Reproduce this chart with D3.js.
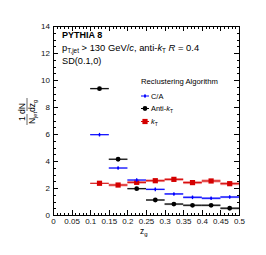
<!DOCTYPE html>
<html>
<head>
<meta charset="utf-8">
<script src="https://cdn.jsdelivr.net/npm/d3@7"></script>
<style>
  body { margin: 0; background: #fff; }
  svg text { font-family: "Liberation Sans", Arial, sans-serif; }
  .axis path, .axis line { stroke: #000; shape-rendering: crispEdges; }
  .axis text { font-size: 8px; fill: #111; }
</style>
</head>
<body>
<div id="chart"></div>
<script>
//-- Data --//
var binLo = [0.10, 0.15, 0.20, 0.25, 0.30, 0.35, 0.40, 0.45],
    binHi = [0.15, 0.20, 0.25, 0.30, 0.35, 0.40, 0.45, 0.50];
var caVals     = [5.95, 3.48, 2.59, 1.90, 1.56, 1.31, 1.24, 1.33],
    antiktVals = [9.36, 4.13, 1.95, 1.11, 0.81, 0.72, 0.72, 0.50],
    ktVals     = [2.35, 2.22, 2.42, 2.54, 2.64, 2.40, 2.52, 2.32];
var caErr     = [0.05, 0.05, 0.05, 0.06, 0.07, 0.08, 0.08, 0.08],
    antiktErr = [0.06, 0.06, 0.06, 0.07, 0.08, 0.08, 0.08, 0.09],
    ktErr     = [0.03, 0.10, 0.10, 0.10, 0.10, 0.11, 0.11, 0.11];
var xTicks = [0, 0.05, 0.1, 0.15, 0.2, 0.25, 0.3, 0.35, 0.4, 0.45, 0.5],
    yTicks = [0, 2, 4, 6, 8, 10, 12, 14];

//-- Sizes --//
var W = 266, H = 255;
var frame = {left: 53, right: 239, top: 26, bottom: 215};

var svg = d3.select("#chart").append("svg")
  .attr("width", W)
  .attr("height", H);

//-- Scales --//
var xScale = d3.scaleLinear().domain([0, 0.5]).range([frame.left, frame.right]),
    yScale = d3.scaleLinear().domain([0, 14]).range([frame.bottom, frame.top]);

var minorX = d3.range(0, 0.5001, 0.01),
    minorY = d3.range(0, 14.001, 0.5);

function fmtX(d) { return String(+d.toFixed(2)); }

// major + minor ticks on all four sides, pointing inside (ROOT style)
function drawAxis(gen, tr, ticks, minor, fmt) {
  var g = svg.append("g").attr("class", "axis").attr("transform", tr);
  g.call(gen.tickValues(minor).tickSize(-2.5).tickFormat(""));
  var g2 = svg.append("g").attr("class", "axis").attr("transform", tr);
  g2.call(gen.tickValues(ticks).tickSize(-5).tickPadding(3).tickFormat(fmt));
  g2.select(".domain").remove();
  g.selectAll("text").remove();
  return g2;
}
drawAxis(d3.axisBottom(xScale), "translate(0," + frame.bottom + ")", xTicks, minorX, fmtX);
drawAxis(d3.axisTop(xScale), "translate(0," + frame.top + ")", xTicks, minorX, function() { return ""; });
drawAxis(d3.axisLeft(yScale), "translate(" + frame.left + ",0)", yTicks, minorY, d3.format("d"));
drawAxis(d3.axisRight(yScale), "translate(" + frame.right + ",0)", yTicks, minorY, function() { return ""; });

//-- Series --//
var series = [
  {name: "kT",     vals: ktVals,     err: ktErr,     color: "#d40000", box: "#f08080", marker: "square"},
  {name: "CA",     vals: caVals,     err: caErr,     color: "#0000ff", box: "#8080ff", marker: "plus"},
  {name: "antikT", vals: antiktVals, err: antiktErr, color: "#000000", box: "#909090", marker: "circle"}
];

function drawMarkers(g, pts, s) {
  if (s.marker === "square") {
    g.selectAll(".m").data(pts).enter().append("rect")
      .attr("x", function(d) { return d.x - 2.6; })
      .attr("y", function(d) { return d.y - 2.6; })
      .attr("width", 5.2).attr("height", 5.2)
      .style("fill", s.color);
  } else if (s.marker === "circle") {
    g.selectAll(".m").data(pts).enter().append("circle")
      .attr("cx", function(d) { return d.x; })
      .attr("cy", function(d) { return d.y; })
      .attr("r", 2.4)
      .style("fill", s.color);
  } else {
    g.selectAll(".m").data(pts).enter().append("line")
      .attr("x1", function(d) { return d.x; })
      .attr("x2", function(d) { return d.x; })
      .attr("y1", function(d) { return d.y - 1.8; })
      .attr("y2", function(d) { return d.y + 1.8; })
      .style("stroke", s.color)
      .style("stroke-width", 1.3);
    g.selectAll(".m2").data(pts).enter().append("circle")
      .attr("cx", function(d) { return d.x; })
      .attr("cy", function(d) { return d.y; })
      .attr("r", 1)
      .style("fill", s.color);
  }
}

series.forEach(function(s) {
  var pts = binLo.map(function(lo, i) {
    return {lo: lo, hi: binHi[i], v: s.vals[i], e: s.err[i]};
  });
  var g = svg.append("g");
  // uncertainty boxes
  g.selectAll(".box").data(pts).enter().append("rect")
    .attr("x", function(d) { return xScale(d.lo); })
    .attr("width", function(d) { return xScale(d.hi) - xScale(d.lo); })
    .attr("y", function(d) { return yScale(d.v + d.e); })
    .attr("height", function(d) { return yScale(d.v - d.e) - yScale(d.v + d.e); })
    .style("fill", s.box)
    .style("opacity", 0.85);
  // horizontal bin-width bars
  g.selectAll(".bar").data(pts).enter().append("line")
    .attr("x1", function(d) { return xScale(d.lo); })
    .attr("x2", function(d) { return xScale(d.hi); })
    .attr("y1", function(d) { return yScale(d.v); })
    .attr("y2", function(d) { return yScale(d.v); })
    .style("stroke", s.color)
    .style("stroke-width", 1);
  drawMarkers(g, pts.map(function(d) {
    return {x: xScale((d.lo + d.hi) / 2), y: yScale(d.v)};
  }), s);
});

// frame
svg.append("rect")
  .attr("x", frame.left).attr("y", frame.top)
  .attr("width", frame.right - frame.left)
  .attr("height", frame.bottom - frame.top)
  .style("fill", "none").style("stroke", "#000")
  .style("shape-rendering", "crispEdges");

//-- Labels --//
svg.append("text")
  .attr("x", 62).attr("y", 38)
  .style("font-size", "9px").style("font-weight", "bold")
  .text("PYTHIA 8");

var t2 = svg.append("text").attr("x", 62).attr("y", 51).style("font-size", "9.4px");
t2.append("tspan").text("p");
t2.append("tspan").attr("dy", 2.2).style("font-size", "6.4px").text("T,jet");
t2.append("tspan").attr("dy", -2.2).text(" > 130 GeV/");
t2.append("tspan").style("font-style", "italic").text("c");
t2.append("tspan").text(", anti-");
t2.append("tspan").style("font-style", "italic").text("k");
t2.append("tspan").attr("dy", 2.2).style("font-size", "6.4px").text("T");
t2.append("tspan").attr("dy", -2.2).text(" ");
t2.append("tspan").style("font-style", "italic").text("R");
t2.append("tspan").text(" = 0.4");

svg.append("text")
  .attr("x", 62).attr("y", 64)
  .style("font-size", "9.2px")
  .text("SD(0.1,0)");

// legend
svg.append("text")
  .attr("x", 141).attr("y", 84)
  .style("font-size", "7.7px")
  .text("Reclustering Algorithm");

var legend = [
  {label: "C/A",    sub: null, y: 96,    s: series[1]},
  {label: "Anti-",  sub: "T",  y: 108.5, s: series[2]},
  {label: "",       sub: "T",  y: 121.5, s: series[0]}
];
legend.forEach(function(l) {
  var g = svg.append("g");
  g.append("line")
    .attr("x1", 141).attr("x2", 149)
    .attr("y1", l.y).attr("y2", l.y)
    .style("stroke", l.s.color);
  drawMarkers(g, [{x: 145, y: l.y}], l.s);
  var t = g.append("text").attr("x", 151).attr("y", l.y + 2.6).style("font-size", "7.4px");
  t.append("tspan").text(l.label);
  if (l.sub) {
    t.append("tspan").style("font-style", "italic").text("k");
    t.append("tspan").attr("dy", 1.8).style("font-size", "5px").text(l.sub);
  }
});

// x title
var xt = svg.append("text").attr("x", 140).attr("y", 234).style("font-size", "8.5px");
xt.append("tspan").text("z");
xt.append("tspan").attr("dy", 2).style("font-size", "6px").text("g");

// y title: 1/N_jet dN/dz_g
var yt = svg.append("g").attr("transform", "translate(27,112) rotate(-90)");
yt.append("text").attr("x", 0).attr("y", -2).attr("text-anchor", "middle")
  .style("font-size", "8.5px").text("1     dN");
yt.append("line").attr("x1", -13).attr("x2", -2).attr("y1", 0).attr("y2", 0)
  .style("stroke", "#000").style("stroke-width", 0.6);
yt.append("line").attr("x1", 1).attr("x2", 14).attr("y1", 0).attr("y2", 0)
  .style("stroke", "#000").style("stroke-width", 0.6);
var yb = yt.append("text").attr("x", 0).attr("y", 8).attr("text-anchor", "middle")
  .style("font-size", "8.5px");
yb.append("tspan").text("N");
yb.append("tspan").attr("dy", 1.7).style("font-size", "5.6px").text("jet");
yb.append("tspan").attr("dy", -1.7).text("dz");
yb.append("tspan").attr("dy", 1.7).style("font-size", "5.6px").text("g");
</script>
</body>
</html>
